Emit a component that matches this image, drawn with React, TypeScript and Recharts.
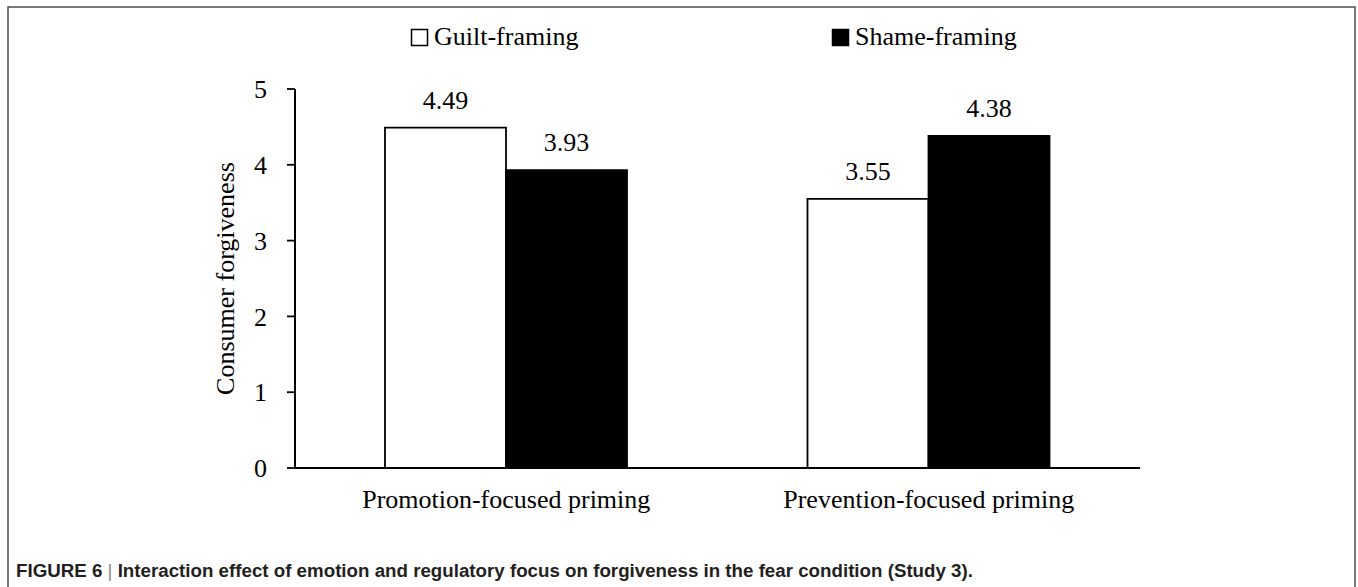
import React from 'react';
import { BarChart, Bar, XAxis, YAxis, Legend, LabelList } from 'recharts';

const categories = ['Promotion-focused priming', 'Prevention-focused priming'];
const guiltValues = [4.49, 3.55];
const shameValues = [3.93, 4.38];
const seriesNames = ['Guilt-framing', 'Shame-framing'];
const yTicks = [0, 1, 2, 3, 4, 5];
const edgeTicks = [0, 1, 2];
const yLabel = 'Consumer forgiveness';
const captionHead = 'FIGURE 6';
const captionBody = 'Interaction effect of emotion and regulatory focus on forgiveness in the fear condition (Study 3).';

const data = categories.map((c, i) => ({ category: c, guilt: guiltValues[i], shame: shameValues[i] }));

const SERIF = '"Liberation Serif", "Times New Roman", serif';
const SANS = '"Liberation Sans", Arial, sans-serif';
const W = 1358;
const H = 587;

const LegendContent = () => (
  <svg width={W} height={89} style={{ display: 'block' }}>
    <rect x={411.5} y={29.5} width={16} height={16} fill="#fff" stroke="#000" strokeWidth={1.5} />
    <text x={434} y={45} fontFamily={SERIF} fontSize={26} fill="#000">{seriesNames[0]}</text>
    <rect x={832.5} y={29.5} width={16} height={16} fill="#000" stroke="#000" strokeWidth={1.5} />
    <text x={855} y={45} fontFamily={SERIF} fontSize={26} fill="#000">{seriesNames[1]}</text>
  </svg>
);

const YLabel = (props: any) => {
  const vb = props.viewBox || {};
  const cx = vb.x + 10;
  const cy = vb.y + vb.height / 2;
  return (
    <text x={cx} y={cy} transform={`rotate(-90 ${cx} ${cy})`} textAnchor="middle" dominantBaseline="central"
      fontFamily={SERIF} fontSize={26} fill="#000">{yLabel}</text>
  );
};

const ValueLabel = (props: any) => {
  const { x, y, width, value } = props;
  return (
    <text x={Number(x) + Number(width) / 2} y={Number(y) - 19} textAnchor="middle"
      fontFamily={SERIF} fontSize={26} fill="#000">{Number(value).toFixed(2)}</text>
  );
};

export default function App() {
  return (
    <div style={{ position: 'absolute', left: 0, top: 0, width: W, height: H, background: '#fff', overflow: 'hidden' }}>
      <BarChart width={W} height={H} data={data} margin={{ top: 0, right: 218, bottom: 59, left: 215 }} barGap={0} barSize={121}>
        <Legend verticalAlign="top" content={LegendContent} wrapperStyle={{ left: 0, top: 0, width: W, height: 89 }} />
        <XAxis xAxisId="edges" type="number" domain={[0, 2]} ticks={edgeTicks} allowDataOverflow height={0}
          axisLine={false} tick={false} tickSize={8} tickLine={{ stroke: '#000', strokeWidth: 1.8 }} />
        <XAxis dataKey="category" height={60} tickLine={false} tickSize={0} tickMargin={22}
          axisLine={{ stroke: '#000', strokeWidth: 2 }}
          tick={{ fill: '#000', fontSize: 26, fontFamily: SERIF }} interval={0} />
        <YAxis domain={[0, 5]} ticks={yTicks} width={80} tickSize={8} tickMargin={20}
          axisLine={{ stroke: '#000', strokeWidth: 2 }} tickLine={{ stroke: '#000', strokeWidth: 1.8 }}
          tick={{ fill: '#000', fontSize: 26, fontFamily: SERIF }} label={YLabel} />
        <Bar dataKey="guilt" name={seriesNames[0]} fill="#fff" stroke="#000" strokeWidth={1.8} isAnimationActive={false}>
          <LabelList dataKey="guilt" content={ValueLabel} />
        </Bar>
        <Bar dataKey="shame" name={seriesNames[1]} fill="#000" stroke="#000" strokeWidth={1.8} isAnimationActive={false}>
          <LabelList dataKey="shame" content={ValueLabel} />
        </Bar>
      </BarChart>
      <svg width={W} height={H} style={{ position: 'absolute', left: 0, top: 0, pointerEvents: 'none' }}>
        <polyline points={`8,${H} 8,7 1355,7 1355,${H}`} fill="none" stroke="#4d4d4d" strokeWidth={1.5} />
        <text x={16} y={577} fontFamily={SANS} fontSize={18} fontWeight="bold" fill="#231f20"
          textLength={957} lengthAdjust="spacingAndGlyphs">
          {captionHead + ' '}
          <tspan fontWeight="normal" fill="#888">|</tspan>
          {' ' + captionBody}
        </text>
      </svg>
    </div>
  );
}
